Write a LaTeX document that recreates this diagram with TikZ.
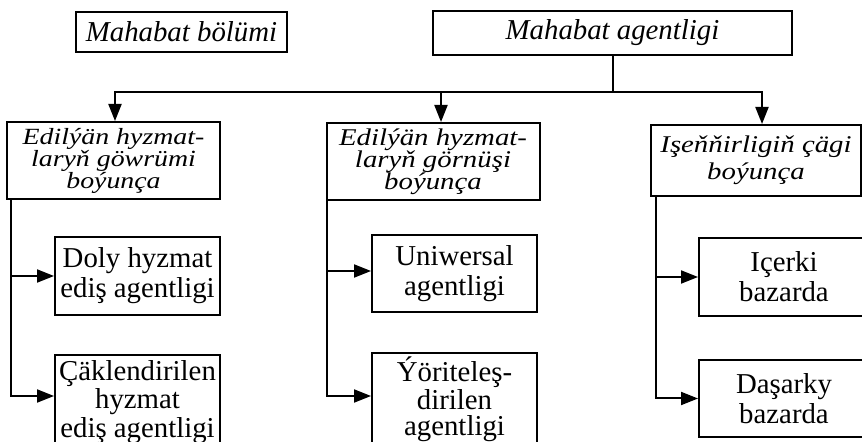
\documentclass[tikz,border=0pt]{standalone}
\usepackage{fontspec}
\setmainfont{Liberation Serif}
\newfontfamily\catfont[FakeStretch=1.2]{Liberation Serif}
\usetikzlibrary{arrows.meta,positioning}

\begin{document}
\begin{tikzpicture}[x=0.5pt,y=-0.5pt,>={Triangle[length=8.5pt,width=6.5pt]},line width=1pt]
  \tikzstyle{box}=[draw,line width=1pt,inner sep=0pt,align=center]
  \tikzstyle{topbox}=[box,font=\fontsize{14.4}{16}\selectfont\itshape]
  \tikzstyle{catbox}=[box,minimum width=106.5pt,minimum height=38.5pt,font=\catfont\fontsize{11.6}{11}\selectfont\itshape]
  \tikzstyle{subbox}=[box,minimum width=82.5pt,minimum height=39pt,font=\fontsize{14.4}{15}\selectfont]
  \useasboundingbox (0,0) rectangle (862,442);
  \node[topbox,minimum width=105.5pt,minimum height=20pt] (bolum) at (181.5,32) {Mahabat bölümi};
  \node[topbox,minimum width=179.5pt,minimum height=22pt] (agent) at (612.5,33) {Mahabat agentligi};
  \node[catbox] (cat1) at (113.5,160.5) {Edilýän hyzmat-\\laryň göwrümi\\boýunça};
  \node[catbox,font=\catfont\fontsize{12}{11}\selectfont\itshape] (cat2) at (433,161.5) {Edilýän hyzmat-\\laryň görnüşi\\boýunça};
  \node[catbox,minimum width=105pt,minimum height=35.5pt,font=\catfont\fontsize{12}{13.3}\selectfont\itshape] (cat3) at (756,160.5) {Işeňňirligiň çägi\\boýunça};
  \node[subbox] (c11) at (137.5,276) {Doly hyzmat\\ediş agentligi};
  \node[subbox,minimum height=47pt,font=\fontsize{14.4}{11}\selectfont] (c12) at (137.5,402) {Çäklendirilen\\hyzmat\\ediş agentligi};
  \node[subbox,minimum height=38.5pt] (c21) at (454.5,273.5) {Uniwersal\\agentligi};
  \node[subbox,minimum height=46.5pt,font=\fontsize{14.4}{13}\selectfont] (c22) at (454.5,399.5) {Ýöriteleş-\\dirilen\\agentligi};
  \node[subbox,minimum width=85pt] (c31) at (784,277) {Içerki\\bazarda};
  \node[subbox,minimum width=85pt,minimum height=38.5pt,below=21pt of c31] (c32) {Daşarky\\bazarda};
  \draw (agent.south) -- ++(0,36) coordinate (bus);
  \draw[->] (bus) -| ([xshift=0.75pt]cat1.north);
  \draw[->] (bus) -| ([xshift=4pt]cat2.north);
  \draw[->] (bus) -| ([xshift=3pt]cat3.north);
  \draw[->] ([xshift=2.5pt]cat1.south west) |- (c11.west);
  \draw[->] ([xshift=2.5pt]cat1.south west) |- ([yshift=3pt]c12.west);
  \draw[->] ([xshift=0.5pt]cat2.south west) |- ([yshift=1.25pt]c21.west);
  \draw[->] ([xshift=0.5pt]cat2.south west) |- ([yshift=1.75pt]c22.west);
  \draw[->] ([xshift=3pt]cat3.south west) |- (c31.west);
  \draw[->] ([xshift=3pt]cat3.south west) |- (c32.west);
\end{tikzpicture}
\end{document}
